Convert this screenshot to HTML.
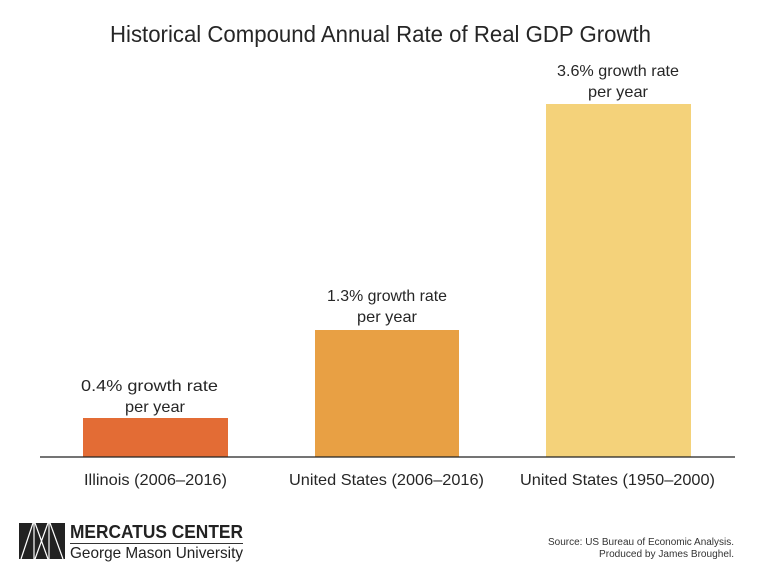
<!DOCTYPE html>
<html>
<head>
<meta charset="utf-8">
<style>
html,body{margin:0;padding:0;background:#fff;}
svg{display:block;}
text{font-family:"Liberation Sans",sans-serif;}
</style>
</head>
<body>
<svg width="768" height="586" viewBox="0 0 768 586" xmlns="http://www.w3.org/2000/svg">
<rect x="0" y="0" width="768" height="586" fill="#ffffff"/>
<!-- Title -->
<text x="110" y="42" font-size="23" fill="#262626" textLength="541" lengthAdjust="spacingAndGlyphs">Historical Compound Annual Rate of Real GDP Growth</text>

<!-- Bars -->
<rect x="83" y="418" width="145" height="39" fill="#E36C35"/>
<rect x="315" y="330" width="144" height="127" fill="#E8A044"/>
<rect x="546" y="104" width="145" height="353" fill="#F4D27A"/>

<!-- Axis -->
<line x1="40" y1="457" x2="735" y2="457" stroke="#222" stroke-width="1.3"/>

<!-- Value labels -->
<g font-size="16" fill="#262626">
<text x="81" y="391" textLength="137" lengthAdjust="spacingAndGlyphs">0.4% growth rate</text>
<text x="125" y="412" textLength="60" lengthAdjust="spacingAndGlyphs">per year</text>
<text x="327" y="301" textLength="120" lengthAdjust="spacingAndGlyphs">1.3% growth rate</text>
<text x="357" y="322" textLength="60" lengthAdjust="spacingAndGlyphs">per year</text>
<text x="557" y="76" textLength="122" lengthAdjust="spacingAndGlyphs">3.6% growth rate</text>
<text x="588" y="97" textLength="60" lengthAdjust="spacingAndGlyphs">per year</text>
</g>

<!-- Category labels -->
<g font-size="16" fill="#262626">
<text x="84" y="485" textLength="143" lengthAdjust="spacingAndGlyphs">Illinois (2006–2016)</text>
<text x="289" y="485" textLength="195" lengthAdjust="spacingAndGlyphs">United States (2006–2016)</text>
<text x="520" y="485" textLength="195" lengthAdjust="spacingAndGlyphs">United States (1950–2000)</text>
</g>

<!-- Logo -->
<rect x="19" y="523" width="46" height="36" fill="#222"/>
<g stroke="#fff" stroke-width="1.2">
<line x1="34" y1="523" x2="34" y2="559"/>
<line x1="49" y1="523" x2="49" y2="559"/>
<line x1="21" y1="559" x2="33" y2="523"/>
<line x1="35" y1="523" x2="48" y2="559"/>
<line x1="35" y1="559" x2="48" y2="523"/>
<line x1="50" y1="523" x2="63" y2="559"/>
</g>
<text x="70" y="538" font-size="18.5" font-weight="bold" fill="#222" textLength="173" lengthAdjust="spacingAndGlyphs">MERCATUS CENTER</text>
<line x1="70" y1="543.5" x2="243" y2="543.5" stroke="#333" stroke-width="1"/>
<text x="70" y="558" font-size="16" fill="#222" textLength="173" lengthAdjust="spacingAndGlyphs">George Mason University</text>

<!-- Source -->
<g font-size="10" fill="#333" text-anchor="end">
<text x="734" y="545" textLength="186" lengthAdjust="spacingAndGlyphs">Source: US Bureau of Economic Analysis.</text>
<text x="734" y="557" textLength="135" lengthAdjust="spacingAndGlyphs">Produced by James Broughel.</text>
</g>
</svg>
</body>
</html>
